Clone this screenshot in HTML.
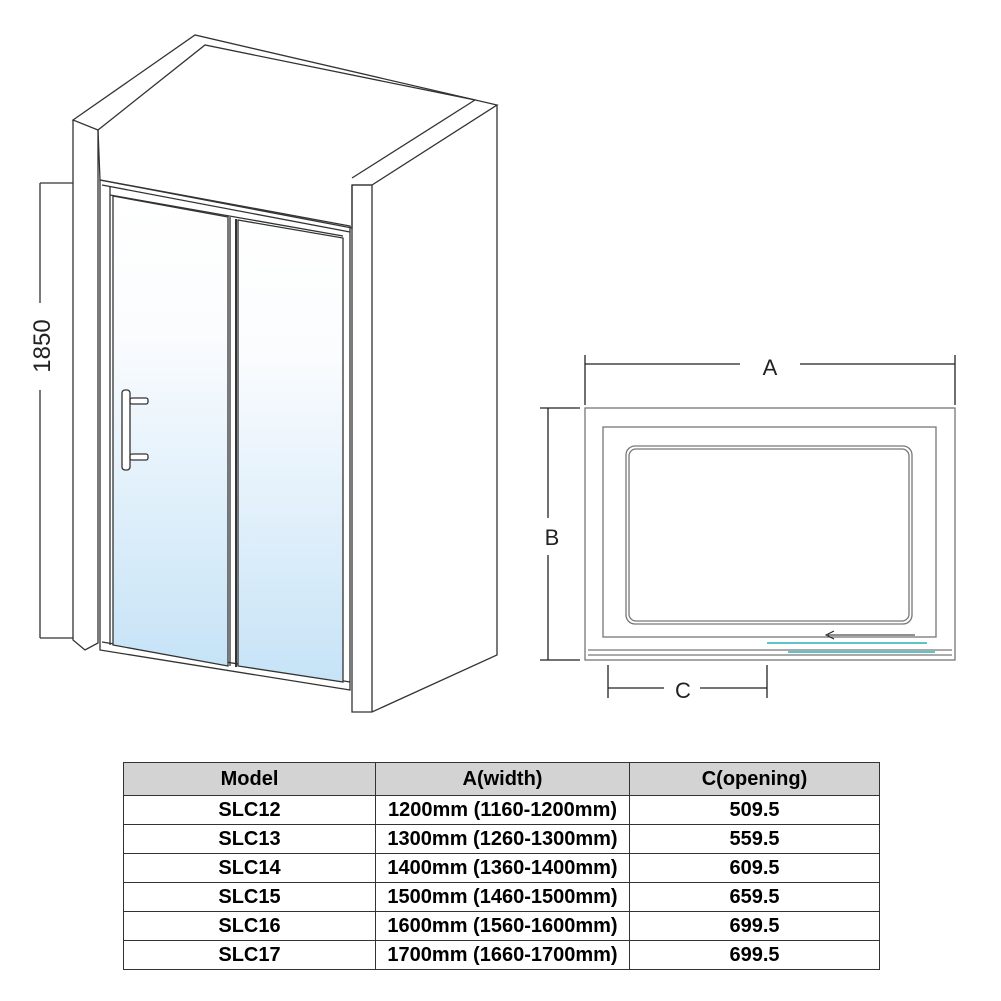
<!DOCTYPE html>
<html><head><style>
body{margin:0;background:#fff;width:1001px;height:1001px;overflow:hidden;position:relative;font-family:"Liberation Sans",Arial,sans-serif}
table{position:absolute;left:123px;top:762px;border-collapse:collapse;width:757px}
td{border:1px solid #333;font-weight:bold;font-size:20px;text-align:center;height:28px;padding:0;line-height:28px}
tr.h td{background:#d3d3d3;height:32px}
</style></head><body>
<svg width="1001" height="1001" style="position:absolute;left:0;top:0" fill="none" stroke="#333" stroke-width="1.3">
<defs><linearGradient id="g" x1="0" y1="0" x2="0" y2="1"><stop offset="0" stop-color="#fff"/><stop offset="0.3" stop-color="#fafcfe"/><stop offset="1" stop-color="#c6e3f7"/></linearGradient></defs>
<polygon points="73,120 195,35 497,105 372,185 352,185 352,228 100,180 98,130 73,120"/>
<polyline points="98,130 205,45 475,100 352,178"/>
<polyline points="73,120 73,640 85,650 98,643 98,130"/>
<polyline points="352,185 352,712 372,712 497,655 497,105"/>
<line x1="372" y1="185" x2="372" y2="712"/>
<line x1="352" y1="185" x2="372" y2="185"/>
<polygon points="100,180 350,226 350,690 100,650"/>
<polyline points="110,186 110,645"/>
<line x1="102" y1="185" x2="350" y2="232"/>
<line x1="110" y1="195" x2="343" y2="236"/>
<line x1="102" y1="642" x2="350" y2="682"/>
<polygon points="113,196 228,217 228,666 113,645" fill="url(#g)"/>
<polygon points="238,220 343,238 343,682 238,666" fill="url(#g)"/>
<line x1="230" y1="217" x2="230" y2="666"/>
<line x1="236" y1="219" x2="236" y2="667" stroke-width="2"/>
<rect x="122" y="390" width="8" height="80" rx="3" fill="#fff"/>
<rect x="130" y="398" width="18" height="6" rx="2" fill="#fff"/>
<rect x="130" y="454" width="18" height="6" rx="2" fill="#fff"/>
<line x1="40" y1="183" x2="73" y2="183"/><line x1="40" y1="638" x2="73" y2="638"/>
<line x1="40" y1="183" x2="40" y2="303"/><line x1="40" y1="390" x2="40" y2="638"/>
<text x="50" y="346" transform="rotate(-90 50 346)" font-family="Liberation Sans" font-size="24" fill="#222" stroke="none" text-anchor="middle">1850</text>
<g stroke="#777">
<rect x="585" y="408" width="370" height="252"/>
<rect x="603" y="427" width="333" height="210"/>
<rect x="626" y="446" width="286" height="178" rx="9"/>
<rect x="629" y="449" width="280" height="172" rx="7"/>
<line x1="588" y1="650" x2="952" y2="650"/><line x1="588" y1="655" x2="952" y2="655"/>
</g>
<g stroke="#222">
<line x1="585" y1="355" x2="585" y2="405"/><line x1="955" y1="355" x2="955" y2="405"/>
<line x1="585" y1="364" x2="740" y2="364"/><line x1="800" y1="364" x2="955" y2="364"/>
<line x1="540" y1="408" x2="580" y2="408"/><line x1="540" y1="660" x2="580" y2="660"/>
<line x1="548" y1="408" x2="548" y2="518"/><line x1="548" y1="555" x2="548" y2="660"/>
<line x1="608" y1="665" x2="608" y2="698"/><line x1="767" y1="665" x2="767" y2="698"/>
<line x1="608" y1="688" x2="664" y2="688"/><line x1="700" y1="688" x2="767" y2="688"/>
<line x1="828" y1="635" x2="915" y2="635" stroke-width="1"/>
<polyline points="834,631 826,635 834,639" stroke-width="1"/>
</g>
<line x1="767" y1="643" x2="927" y2="643" stroke="#2ab0b8" stroke-width="1.5"/>
<line x1="788" y1="652" x2="935" y2="652" stroke="#2ab0b8" stroke-width="1.5"/>
<g font-family="Liberation Sans" font-size="22" fill="#222" stroke="none" text-anchor="middle">
<text x="770" y="375">A</text><text x="552" y="545">B</text><text x="683" y="698">C</text>
</g>
</svg>
<table>
<tr class="h"><td style="width:251px">Model</td><td style="width:253px">A(width)</td><td>C(opening)</td></tr>
<tr><td>SLC12</td><td>1200mm (1160-1200mm)</td><td>509.5</td></tr>
<tr><td>SLC13</td><td>1300mm (1260-1300mm)</td><td>559.5</td></tr>
<tr><td>SLC14</td><td>1400mm (1360-1400mm)</td><td>609.5</td></tr>
<tr><td>SLC15</td><td>1500mm (1460-1500mm)</td><td>659.5</td></tr>
<tr><td>SLC16</td><td>1600mm (1560-1600mm)</td><td>699.5</td></tr>
<tr><td>SLC17</td><td>1700mm (1660-1700mm)</td><td>699.5</td></tr>
</table>
</body></html>
